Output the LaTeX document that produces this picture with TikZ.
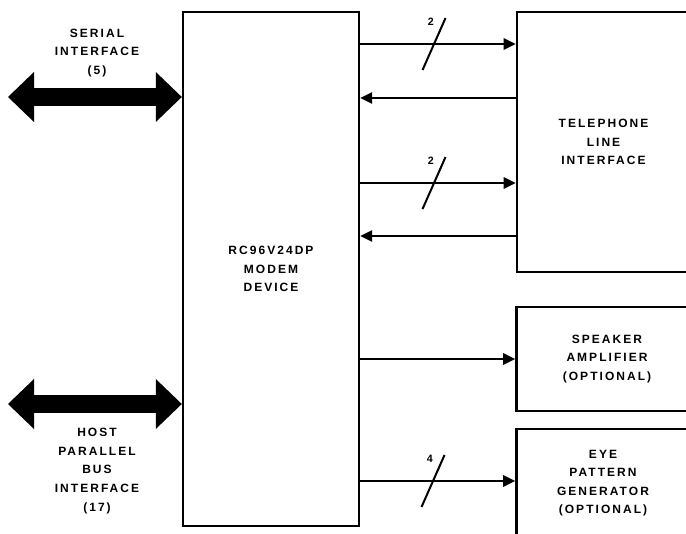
\documentclass[tikz,border=0pt]{standalone}
\usepackage{fontspec}
\newfontfamily\blockfont[LetterSpace=17]{Liberation Sans}
\usetikzlibrary{positioning}
\usetikzlibrary{arrows.meta}
\tikzstyle{box} = [rectangle, draw, line width=1.8pt, text centered, align=center, font=\blockfont\bfseries\fontsize{9}{13.9}\selectfont]
\tikzstyle{caption} = [text centered, align=center, font=\blockfont\bfseries\fontsize{9}{13.9}\selectfont]
\tikzstyle{line} = [draw, line width=1.5pt, -{Triangle[width=8.5pt, length=9pt]}]
\tikzstyle{bus} = [draw, line width=13.5pt, {Triangle[width=37.5pt, length=19.5pt, line width=0pt]}-{Triangle[width=37.5pt, length=19.5pt, line width=0pt]}]
\tikzstyle{tick} = [draw, line width=1.5pt]
\tikzstyle{count} = [inner sep=1pt, font=\blockfont\bfseries\fontsize{8}{9}\selectfont]

\begin{document}
\begin{tikzpicture}[x=0.75pt, y=-0.75pt]
    \useasboundingbox (0,0) rectangle (686,534);
    \clip (0,0) rectangle (686,534);
    \node [box, minimum width=132pt, minimum height=385.5pt] (modem) at (271,269) {RC96V24DP\\MODEM\\DEVICE};
    \node [box, minimum width=130pt, minimum height=195pt] (tel) at (603.5,142) {TELEPHONE\\LINE\\INTERFACE};
    \node [box, minimum width=136pt, minimum height=78pt] (speaker) at (607,359) {SPEAKER\\AMPLIFIER\\(OPTIONAL)};
    \node [box, minimum width=130pt, minimum height=81pt] (eye) at (603,483) {EYE\\PATTERN\\GENERATOR\\(OPTIONAL)};
    \node [caption] (serial) at (97,53) {SERIAL\\INTERFACE\\(5)};
    \node [caption] (host) at (97,471) {HOST\\PARALLEL\\BUS\\INTERFACE\\(17)};

    \coordinate (serial_end) at (8,97);
    \coordinate (host_end) at (8,404);
    \coordinate (tx_a) at (0,44);
    \coordinate (rx_a) at (0,98);
    \coordinate (tx_b) at (0,183);
    \coordinate (rx_b) at (0,236);
    \coordinate (spk) at (0,359);
    \coordinate (eyp) at (0,481);

    % host side buses
    \path [bus] (serial_end) -- (modem.west |- serial_end);
    \path [bus] (host_end) -- (modem.west |- host_end);

    % line side
    \path [line] (modem.east |- tx_a) -- coordinate[pos=0.475] (tick_a) (tel.west |- tx_a);
    \path [line] (tel.west |- rx_a) -- (modem.east |- rx_a);
    \path [line] (modem.east |- tx_b) -- coordinate[pos=0.475] (tick_b) (tel.west |- tx_b);
    \path [line] (tel.west |- rx_b) -- (modem.east |- rx_b);
    \path [line] (modem.east |- spk) -- (speaker.west |- spk);
    \path [line] (modem.east |- eyp) -- coordinate[pos=0.47] (tick_c) (eye.west |- eyp);

    \path [tick] (tick_a) ++(-11.5,26) -- ++(23,-52) node [count, left=7pt, yshift=-2.5pt] {2};
    \path [tick] (tick_b) ++(-11.5,26) -- ++(23,-52) node [count, left=7pt, yshift=-2.5pt] {2};
    \path [tick] (tick_c) ++(-11.5,26) -- ++(23,-52) node [count, left=7pt, yshift=-2.5pt] {4};
  \end{tikzpicture}
\end{document}
